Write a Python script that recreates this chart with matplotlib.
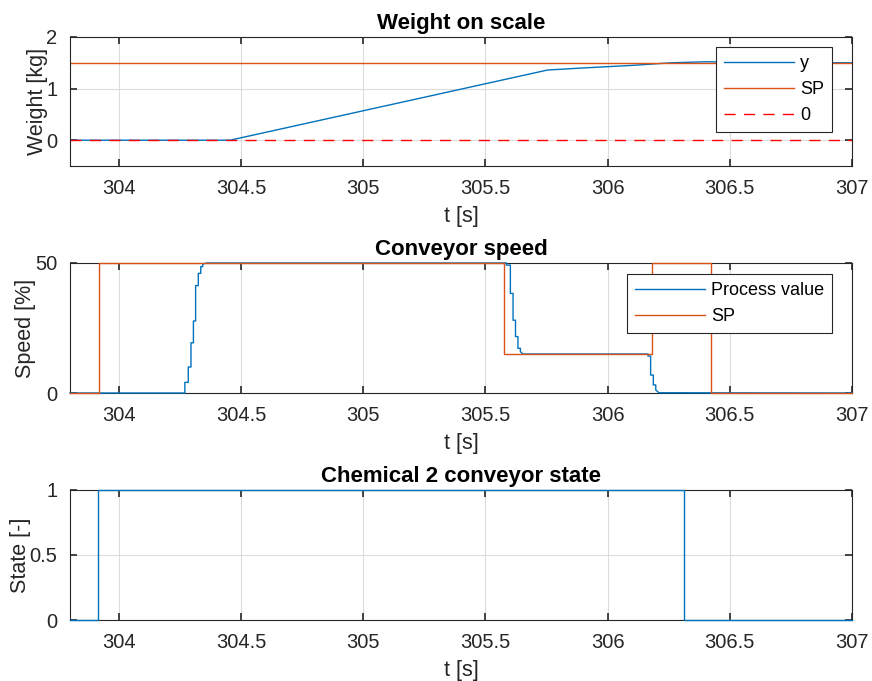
import numpy as np
import matplotlib.pyplot as plt

plt.rcParams['font.family'] = ['Liberation Sans', 'DejaVu Sans']

# weight on scale
w_t = [303.8, 304.455, 305.754, 305.9, 306.1, 306.26, 306.4, 306.6, 307.0]
w_y = [0.0, 0.0, 1.36, 1.40, 1.45, 1.50, 1.52, 1.51, 1.50]
w_sp = 1.5

# conveyor speed
pv_t = [303.8, 304.270, 304.270, 304.284, 304.284, 304.295, 304.295, 304.305, 304.305,
        304.314, 304.314, 304.325, 304.325, 304.335, 304.335, 304.343, 304.343, 304.359,
        305.582, 305.586, 305.586, 305.602, 305.602, 305.613, 305.613, 305.623, 305.623,
        305.633, 305.633, 305.643, 305.643, 305.653,
        306.165, 306.165, 306.176, 306.176, 306.187, 306.187, 306.197, 306.197, 306.210, 307.0]
pv_y = [0, 0, 4.1, 4.1, 10, 10, 19.3, 19.3, 27.7,
        27.7, 41.3, 41.3, 46, 46, 48.6, 48.6, 49.6, 50,
        50, 50, 49.2, 49.2, 38.3, 38.3, 28, 28, 21.7,
        21.7, 17.2, 17.2, 15.9, 15,
        15, 14.2, 14.2, 6.9, 6.9, 3.1, 3.1, 1.15, 0.1, 0]
sp_t = [303.8, 303.92, 303.92, 305.575, 305.575, 306.18, 306.18, 306.425, 306.425, 307.0]
sp_y = [0, 0, 50, 50, 15, 15, 50, 50, 0, 0]

# chemical 2 conveyor state
st_t = [303.8, 303.913, 303.913, 306.313, 306.313, 307.0]
st_y = [0, 0, 1, 1, 0, 0]

blue = '#0072BD'
orange = '#D95319'
axc = '#262626'

fig = plt.figure(figsize=(8.72, 6.81), dpi=100)
rects = [(70/872, 1-166/681, 782/872, 129/681),
         (70/872, 1-393/681, 782/872, 130/681),
         (70/872, 1-620/681, 782/872, 130/681)]
axs = [fig.add_axes(r) for r in rects]

def style(ax, title, ylabel, label_x):
    ax.set_xlim(303.8, 307)
    ax.set_xticks([304, 304.5, 305, 305.5, 306, 306.5, 307])
    ax.set_xticklabels(['304', '304.5', '305', '305.5', '306', '306.5', '307'])
    ax.grid(True, color='#dcdcdc', linewidth=0.8)
    ax.set_axisbelow(True)
    ax.tick_params(direction='in', top=True, right=True, labelsize=14.5,
                   colors=axc, length=5, width=1.2, pad=9)
    for s in ax.spines.values():
        s.set_color(axc)
        s.set_linewidth(0.8)
    ax.set_title(title, fontsize=16, fontweight='bold', color='black', pad=6)
    ax.set_ylabel(ylabel, fontsize=15.5, color=axc)
    # centre of the y label, in pixels from the left edge of the figure
    ax.yaxis.set_label_coords((label_x - 70) / 782, 0.5)
    ax.yaxis.label.set_verticalalignment('center')
    ax.set_xlabel('t [s]', fontsize=15.5, color=axc, labelpad=6)

def add_legend(ax, y_anchor):
    leg = ax.legend(loc='upper right', bbox_to_anchor=(0.9744, y_anchor),
                    borderaxespad=0, fontsize=13, fancybox=False, edgecolor=axc,
                    framealpha=1, handlelength=3.9, borderpad=0.45,
                    labelspacing=0.5, handletextpad=0.3)
    leg.get_frame().set_linewidth(0.8)
    leg.set_zorder(5)

ax = axs[0]
ax.plot(w_t, w_y, color=blue, lw=1, label='y')
ax.axhline(w_sp, color=orange, lw=1, label='SP')
ax.axhline(0, color='red', lw=1, ls=(0, (8, 6)), label='0')
ax.set_ylim(-0.5, 2)
ax.set_yticks([0, 1, 2])
style(ax, 'Weight on scale', 'Weight [kg]', 37)
add_legend(ax, 0.9225)

ax = axs[1]
ax.plot(pv_t, pv_y, color=blue, lw=1, label='Process value', clip_on=False, zorder=3)
ax.plot(sp_t, sp_y, color=orange, lw=1, label='SP', clip_on=False, zorder=3)
ax.set_ylim(0, 50)
ax.set_yticks([0, 50])
style(ax, 'Conveyor speed', 'Speed [%]', 25)
add_legend(ax, 0.915)

ax = axs[2]
ax.plot(st_t, st_y, color=blue, lw=1, clip_on=False, zorder=3)
ax.set_ylim(0, 1)
ax.set_yticks([0, 0.5, 1])
ax.set_yticklabels(['0', '0.5', '1'])
style(ax, 'Chemical 2 conveyor state', 'State [-]', 20.5)

fig.savefig('out.png', dpi=100)
